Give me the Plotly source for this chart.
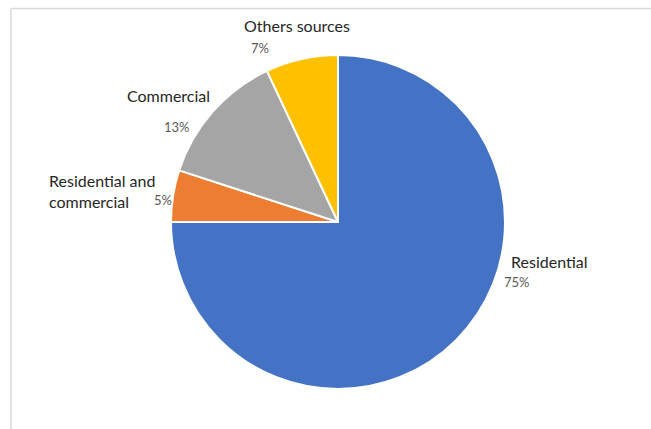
import plotly.graph_objects as go

# Data
categories = ["Residential", "Residential and commercial", "Commercial", "Others sources"]
values = [75, 5, 13, 7]
colors = ["#4472C4", "#ED7D31", "#A5A5A5", "#FFC000"]
label_texts = ["Residential", "Residential and<br>commercial", "Commercial", "Others sources"]

W, H = 651, 429

def px(x):
    return x / W

def py(y):
    return 1 - y / H

# pie geometry (pixels)
cx, cy, r = 338, 222, 167

fig = go.Figure(go.Pie(
    labels=categories,
    values=values,
    marker=dict(colors=colors, line=dict(color="white", width=2)),
    sort=False,
    direction="clockwise",
    rotation=0,
    textinfo="none",
    hoverinfo="label+percent",
    showlegend=False,
    domain=dict(x=[px(cx - r), px(cx + r)], y=[py(cy + r), py(cy - r)]),
))

total = sum(values)
pct = [f"{round(v / total * 100)}%" for v in values]

# label layout: (name x, name y, anchor), (pct x, pct y, anchor)
name_pos = [(509, 261, "left"), (47, 191, "left"), (168, 96, "center"), (297, 26, "center")]
pct_pos = [(502, 282, "left"), (152, 200, "left"), (177, 127, "center"), (260, 48, "center")]

ann = []
for i in range(len(categories)):
    nx, ny, na = name_pos[i]
    ann.append(dict(x=px(nx), y=py(ny), xref="paper", yref="paper", text=label_texts[i],
                    showarrow=False, xanchor=na, yanchor="middle", align="left",
                    font=dict(family="Lato, 'Open Sans', sans-serif", size=16, color="#262626")))
    qx, qy, qa = pct_pos[i]
    ann.append(dict(x=px(qx), y=py(qy), xref="paper", yref="paper", text=pct[i],
                    showarrow=False, xanchor=qa, yanchor="middle",
                    font=dict(family="Lato, 'Open Sans', sans-serif", size=13, color="#595959")))

shapes = [
    dict(type="line", xref="paper", yref="paper", x0=px(11), x1=1.01, y0=py(8.5), y1=py(8.5),
         line=dict(color="#D9D9D9", width=1.5)),
    dict(type="line", xref="paper", yref="paper", x0=px(11), x1=px(11), y0=py(8.5), y1=-0.01,
         line=dict(color="#D9D9D9", width=1.5)),
]

fig.update_layout(
    width=W, height=H,
    margin=dict(l=0, r=0, t=0, b=0),
    paper_bgcolor="white",
    plot_bgcolor="white",
    annotations=ann,
    shapes=shapes,
)

fig.write_html("out.html")
